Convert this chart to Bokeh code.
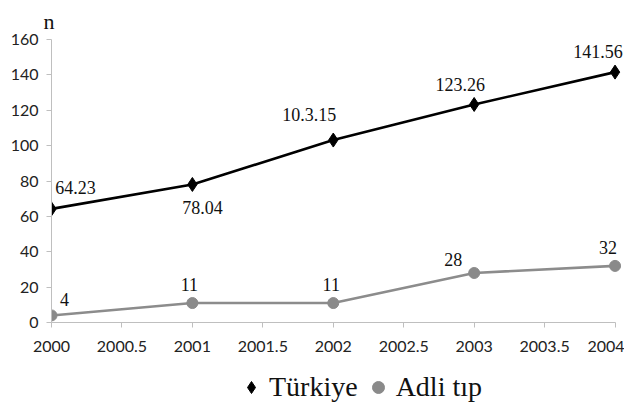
from bokeh.plotting import figure
from bokeh.layouts import column
from bokeh.models import ColumnDataSource, Range1d, FixedTicker, Legend, LegendItem
from bokeh.core.properties import value
from bokeh.embed import file_html
from bokeh.resources import INLINE

years = [2000, 2001, 2002, 2003, 2004]
turkiye = [64.23, 78.04, 103.15, 123.26, 141.56]
turkiye_labels = ["64.23", "78.04", "10.3.15", "123.26", "141.56"]
adli = [4, 11, 11, 28, 32]
adli_labels = ["4", "11", "11", "28", "32"]
x_ticks = [2000, 2000.5, 2001, 2001.5, 2002, 2002.5, 2003, 2003.5, 2004]
y_ticks = [0, 20, 40, 60, 80, 100, 120, 140, 160]

BLACK = "black"
GREY = "#8a8a8a"

p = figure(width=624, height=360, output_backend="svg", toolbar_location=None,
           x_range=Range1d(2000, 2004.06), y_range=Range1d(0, 160),
           min_border_left=51, min_border_right=1, min_border_top=39, min_border_bottom=38)
p.outline_line_color = None
p.xgrid.visible = False
p.ygrid.visible = False

p.title.text = "n"
p.title.text_font = "Liberation Serif"
p.title.text_font_size = "22px"
p.title.text_font_style = "normal"
p.title.text_color = "#111111"
p.title.align = "left"
p.title.offset = -8
p.title.standoff = 11

for ax in (p.xaxis, p.yaxis):
    ax.axis_line_color = "#bfbfbf"
    ax.major_tick_line_color = "#bfbfbf"
    ax.minor_tick_line_color = None
    ax.major_tick_in = 0
    ax.major_tick_out = 5
    ax.major_label_text_font = "Lato"
    ax.major_label_text_font_size = "16px"
    ax.major_label_text_color = "#222222"
p.xaxis.ticker = FixedTicker(ticks=x_ticks)
p.yaxis.ticker = FixedTicker(ticks=y_ticks)
p.xaxis.bounds = (2000, 2004)
p.yaxis.bounds = (0, 160)
p.xaxis.major_label_standoff = 13
p.yaxis.major_label_standoff = 8

src_t = ColumnDataSource(dict(x=years, y=turkiye, lab=turkiye_labels,
                              dx=[24, 10, -24, -14, -17], dy=[-21, 23, -26, -20, -21]))
src_a = ColumnDataSource(dict(x=years, y=adli, lab=adli_labels,
                              dx=[13, -3, -2, -21, -7], dy=[-16, -19, -19, -13, -18]))

p.line("x", "y", source=src_t, line_color=BLACK, line_width=2.6)
p.scatter("x", "y", source=src_t, marker="diamond", size=14, color=BLACK)
p.line("x", "y", source=src_a, line_color="#8c8c8c", line_width=2.6)
p.scatter("x", "y", source=src_a, marker="circle", size=11, color=GREY)

for src in (src_t, src_a):
    p.text("x", "y", text="lab", source=src, x_offset="dx", y_offset="dy",
           text_align="center", text_baseline="middle",
           text_font=value("Liberation Serif"), text_font_size=value("18px"),
           text_color="#111111")

# legend strip under the chart (its frame shows no data, only the legend)
lg = figure(width=624, height=43, output_backend="svg", toolbar_location=None,
            x_range=Range1d(0, 1), y_range=Range1d(0, 1),
            min_border_left=0, min_border_right=0, min_border_top=0, min_border_bottom=0)
lg.axis.visible = False
lg.grid.visible = False
lg.outline_line_color = None
lt = lg.scatter("x", "y", source=src_t, marker="diamond", size=14, color=BLACK)
la = lg.scatter("x", "y", source=src_a, marker="circle", size=11, color=GREY)
legend = Legend(items=[LegendItem(label="Türkiye", renderers=[lt]),
                       LegendItem(label="Adli tıp", renderers=[la])],
                orientation="horizontal", location=(185, 0),
                label_text_font="Liberation Serif", label_text_font_size="28px",
                label_text_color="#111111",
                border_line_color=None, background_fill_alpha=0,
                glyph_width=30, glyph_height=30, label_standoff=3, spacing=5,
                padding=0, margin=0)
lg.add_layout(legend, "center")

open("out.html", "w").write(file_html(column(p, lg, spacing=0), INLINE))
